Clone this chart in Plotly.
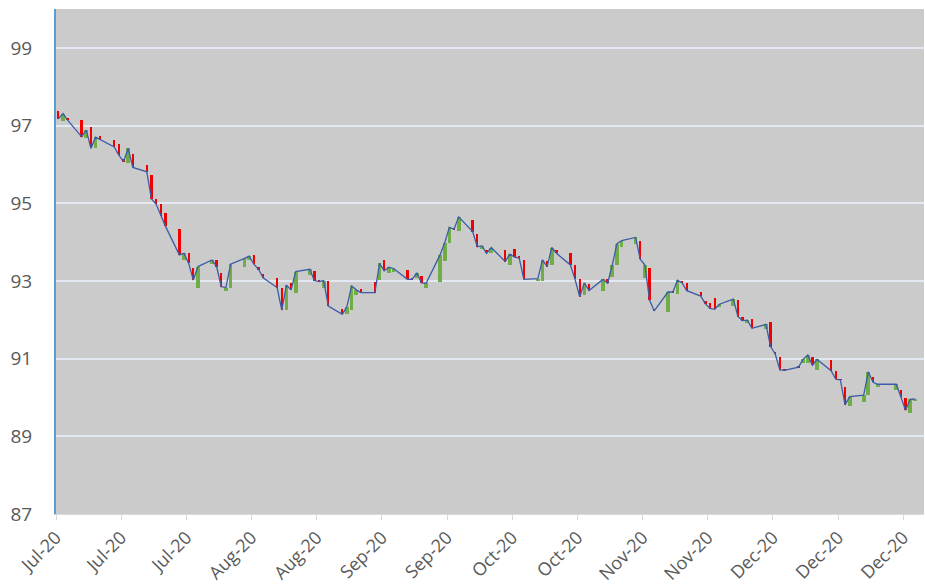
import pandas as pd
import plotly.graph_objects as go

dates = [
    "2020-07-01", "2020-07-02", "2020-07-03",
    "2020-07-06", "2020-07-07", "2020-07-08", "2020-07-09", "2020-07-10",
    "2020-07-13", "2020-07-14", "2020-07-15", "2020-07-16", "2020-07-17",
    "2020-07-20", "2020-07-21", "2020-07-22", "2020-07-23", "2020-07-24",
    "2020-07-27", "2020-07-28", "2020-07-29", "2020-07-30", "2020-07-31",
    "2020-08-03", "2020-08-04", "2020-08-05", "2020-08-06", "2020-08-07",
    "2020-08-10", "2020-08-11", "2020-08-12", "2020-08-13", "2020-08-14",
    "2020-08-17", "2020-08-18", "2020-08-19", "2020-08-20", "2020-08-21",
    "2020-08-24", "2020-08-25", "2020-08-26", "2020-08-27", "2020-08-28",
    "2020-08-31", "2020-09-01", "2020-09-02", "2020-09-03", "2020-09-04",
    "2020-09-07", "2020-09-08", "2020-09-09", "2020-09-10", "2020-09-11",
    "2020-09-14", "2020-09-15", "2020-09-16", "2020-09-17", "2020-09-18",
    "2020-09-21", "2020-09-22", "2020-09-23", "2020-09-24", "2020-09-25",
    "2020-09-28", "2020-09-29", "2020-09-30", "2020-10-01", "2020-10-02",
    "2020-10-05", "2020-10-06", "2020-10-07", "2020-10-08", "2020-10-09",
    "2020-10-12", "2020-10-13", "2020-10-14", "2020-10-15", "2020-10-16",
    "2020-10-19", "2020-10-20", "2020-10-21", "2020-10-22", "2020-10-23",
    "2020-10-26", "2020-10-27", "2020-10-28", "2020-10-29", "2020-10-30",
    "2020-11-02", "2020-11-03", "2020-11-04", "2020-11-05", "2020-11-06",
    "2020-11-09", "2020-11-10", "2020-11-11", "2020-11-12", "2020-11-13",
    "2020-11-16", "2020-11-17", "2020-11-18", "2020-11-19", "2020-11-20",
    "2020-11-23", "2020-11-24", "2020-11-25", "2020-11-26", "2020-11-27",
    "2020-11-30", "2020-12-01", "2020-12-02", "2020-12-03", "2020-12-04",
    "2020-12-07", "2020-12-08", "2020-12-09", "2020-12-10", "2020-12-11",
    "2020-12-14", "2020-12-15", "2020-12-16", "2020-12-17", "2020-12-18",
    "2020-12-21", "2020-12-22", "2020-12-23", "2020-12-24",
    "2020-12-28", "2020-12-29", "2020-12-30", "2020-12-31", "2021-01-01",
]

opens = [
    97.37, 97.12, 97.20,
    97.14, 96.69, 96.97, 96.41, 96.73,
    96.64, 96.52, 96.15, 96.03, 96.27,
    95.98, 95.73, 95.10, 94.97, 94.74,
    94.33, 93.55, 93.73, 93.32, 92.81,
    93.43, 93.54, 93.21, 92.75, 92.81,
    93.35, 93.55, 93.67, 93.35, 93.19,
    93.07, 92.81, 92.25, 92.94, 92.70,
    93.15, 93.26, 93.02, 92.81, 93.01,
    92.29, 92.16, 92.25, 92.64, 92.78,
    92.96, 93.02, 93.55, 93.21, 93.24,
    93.28, 93.05, 93.07, 93.13, 92.83,
    92.98, 93.52, 93.97, 94.36, 94.28,
    94.57, 94.22, 93.81, 93.80, 93.71,
    93.80, 93.41, 93.81, 93.63, 93.55,
    93.02, 93.00, 93.52, 93.41, 93.80,
    93.71, 93.41, 93.04, 92.64, 92.92,
    92.75, 93.04, 93.09, 93.41, 93.88,
    93.95, 94.04, 93.07, 93.32, 92.26,
    92.21, 92.75, 92.66, 93.00, 92.95,
    92.72, 92.49, 92.42, 92.55, 92.32,
    92.35, 92.51, 92.08, 91.92, 92.01,
    91.75, 91.93, 91.18, 91.03, 90.72,
    90.82, 90.88, 90.90, 91.05, 90.71,
    90.96, 90.69, 90.46, 90.26, 89.78,
    89.89, 90.06, 90.52, 90.26,
    90.19, 90.19, 89.99, 89.59, 89.92,
]

closes = [
    97.17, 97.31, 97.14,
    96.71, 96.88, 96.41, 96.70, 96.64,
    96.45, 96.24, 96.07, 96.41, 95.92,
    95.81, 95.11, 94.98, 94.67, 94.41,
    93.67, 93.71, 93.45, 93.02, 93.37,
    93.54, 93.37, 92.85, 92.83, 93.43,
    93.58, 93.64, 93.43, 93.30, 93.08,
    92.83, 92.25, 92.89, 92.77, 93.24,
    93.30, 93.01, 92.98, 93.01, 92.35,
    92.14, 92.34, 92.87, 92.77, 92.70,
    92.70, 93.45, 93.26, 93.35, 93.32,
    93.04, 93.04, 93.21, 92.95, 92.94,
    93.67, 93.98, 94.38, 94.33, 94.65,
    94.27, 93.88, 93.90, 93.71, 93.86,
    93.50, 93.69, 93.61, 93.59, 93.04,
    93.06, 93.54, 93.37, 93.86, 93.71,
    93.41, 93.04, 92.59, 92.95, 92.75,
    93.04, 92.94, 93.41, 93.96, 94.04,
    94.12, 93.56, 93.41, 92.51, 92.23,
    92.72, 92.71, 93.02, 92.95, 92.75,
    92.61, 92.41, 92.29, 92.27, 92.40,
    92.53, 92.08, 91.98, 91.99, 91.78,
    91.88, 91.31, 91.12, 90.71, 90.70,
    90.78, 90.98, 91.09, 90.83, 90.98,
    90.69, 90.47, 90.45, 89.81, 90.02,
    90.06, 90.66, 90.39, 90.34,
    90.34, 90.01, 89.67, 89.95, 89.96,
]

df = pd.DataFrame({"date": pd.to_datetime(dates), "open": opens, "close": closes})
df["x"] = df["date"] + pd.Timedelta(hours=12)
up = df[df["close"] >= df["open"]]
down = df[df["close"] < df["open"]]
DAY_MS = 86400000

fig = go.Figure()
fig.add_trace(go.Bar(
    x=down["x"], base=down["close"], y=down["open"] - down["close"],
    width=0.5 * DAY_MS, marker=dict(color="#f00000", line=dict(width=0)),
    showlegend=False,
))
fig.add_trace(go.Bar(
    x=up["x"], base=up["open"], y=up["close"] - up["open"],
    width=0.8 * DAY_MS, marker=dict(color="#70ad47", line=dict(width=0)),
    showlegend=False,
))
fig.add_trace(go.Scatter(
    x=df["x"], y=df["close"], mode="lines",
    line=dict(color="#3b5ca8", width=1.3), showlegend=False,
))

fig.update_layout(
    width=925, height=588,
    margin=dict(l=56, r=1, t=9, b=74),
    paper_bgcolor="white", plot_bgcolor="#cbcbcb",
    barmode="overlay", bargap=0,
    font=dict(family="Open Sans", size=18, color="#595959"),
    showlegend=False,
)
fig.update_xaxes(
    type="date", range=["2020-07-01", "2021-01-03 11:00"],
    tick0="2020-07-01", dtick=14 * DAY_MS, tickformat="%b-%y",
    tickangle=-45, ticks="outside", ticklen=5, tickcolor="#d9d9d9", tickwidth=1,
    showgrid=False, showline=True, linecolor="#d9d9d9", linewidth=1,
    tickfont=dict(size=18, color="#595959"), zeroline=False, automargin=False,
)
fig.update_yaxes(
    range=[87, 100], tickvals=[87, 89, 91, 93, 95, 97, 99],
    showgrid=True, gridcolor="#e2e9f2", gridwidth=2,
    showline=True, linecolor="#5b9bd5", linewidth=2,
    ticks="", ticklabelstandoff=18, zeroline=False, automargin=False,
    tickfont=dict(size=19, color="#595959"),
)

fig.write_html("out.html")
